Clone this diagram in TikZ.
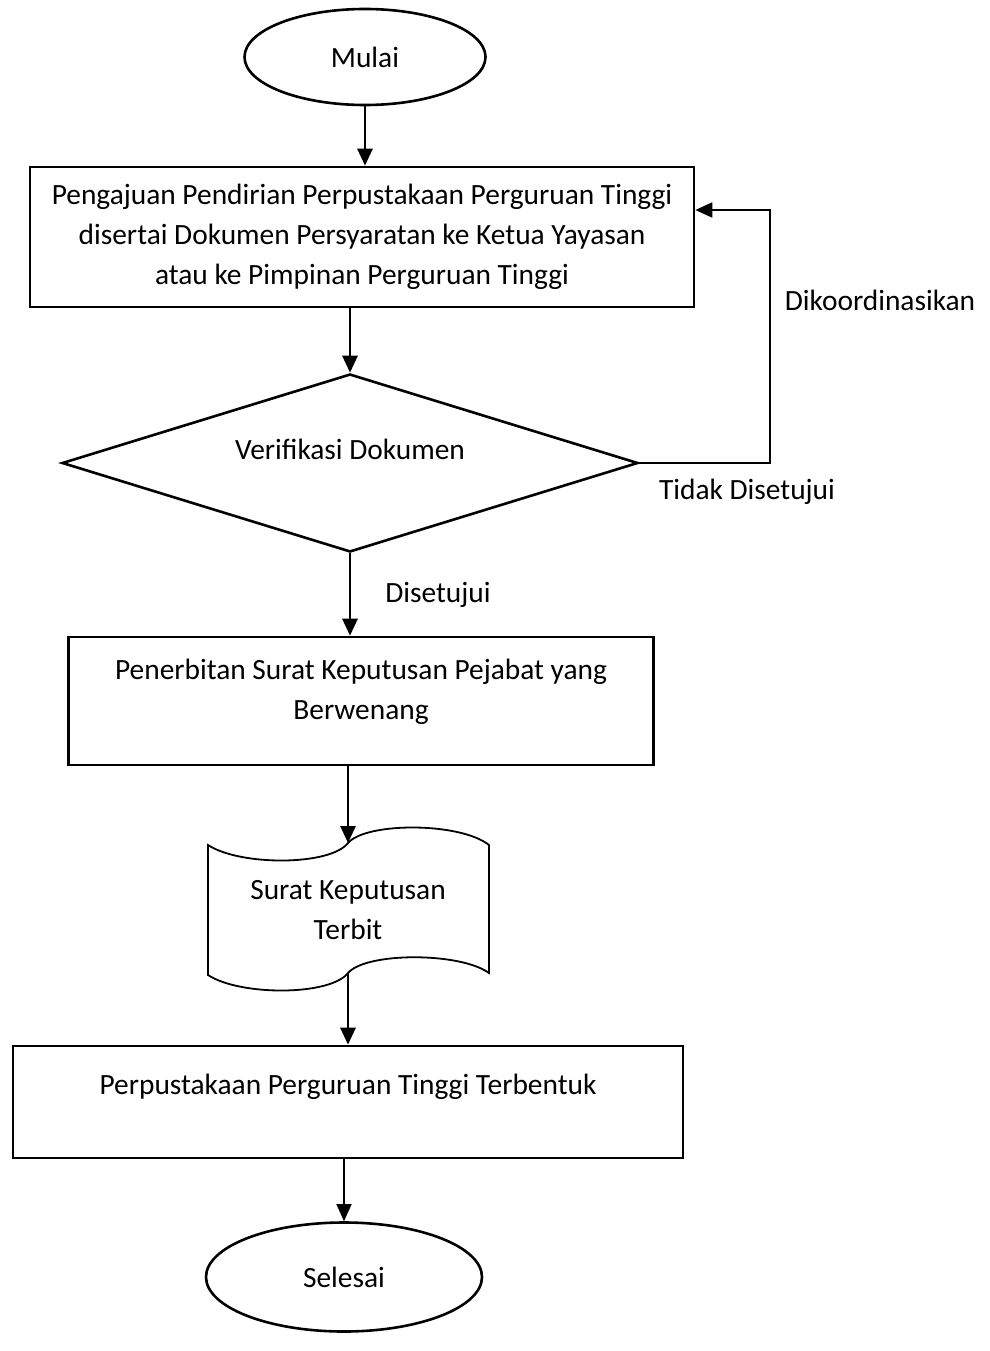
\documentclass[tikz,border=0pt]{standalone}
\usepackage{fontspec}
\setmainfont{Carlito}
\usetikzlibrary{shapes.geometric, arrows.meta, positioning}

\tikzset{
  terminal/.style={ellipse, draw, line width=2.6pt, inner sep=0pt},
  procbox/.style={rectangle, draw, line width=2.6pt, align=center, inner sep=0pt},
  decision/.style={diamond, draw, line width=2.6pt, inner sep=0pt},
  flow/.style={line width=2.8pt, -{Triangle[width=15pt,length=17pt]}},
  thinflow/.style={line width=1.2pt, -{Triangle[width=15pt,length=17pt]}},
}

\begin{document}
\begin{tikzpicture}[x=1pt, y=-1pt, font=\fontsize{29.4}{40}\selectfont]
    \useasboundingbox (0,0) rectangle (989,1351);

    % Start
    \node[terminal, minimum width=241, minimum height=96] (mulai) at (365,57) {Mulai};

    % Submission
    \node[procbox, minimum width=664, minimum height=140] (pengajuan) at (362,237)
        {Pengajuan Pendirian Perpustakaan Perguruan Tinggi\\disertai Dokumen Persyaratan ke Ketua Yayasan\\atau ke Pimpinan Perguruan Tinggi};

    % Verification
    \node[decision, minimum width=576, minimum height=178,
          label={[yshift=14pt]center:Verifikasi Dokumen}] (verif) at (350,463) {};

    % Decree
    \node[procbox, minimum width=585, minimum height=128,
          label={[yshift=9pt, align=center]center:Penerbitan Surat Keputusan Pejabat yang\\Berwenang}] (penerbitan) at (361,701) {};

    % Document shape
    \draw[line width=1.8pt] (208,845) .. controls (240,866) and (330,866) .. (348,843)
        .. controls (366,822) and (460,822) .. (489,845) -- (489,973)
        .. controls (460,952) and (366,952) .. (348,973)
        .. controls (330,996) and (240,996) .. (208,975) -- cycle;
    \node[align=center] (sk) at (348,910) {Surat Keputusan\\Terbit};
    \coordinate (sktop) at (348,843);
    \coordinate (skbot) at (348,973);

    % Library formed
    \node[procbox, minimum width=670, minimum height=112,
          label={[yshift=15pt]center:Perpustakaan Perguruan Tinggi Terbentuk}] (terbentuk) at (348,1102) {};

    % End
    \node[terminal, minimum width=276, minimum height=109] (selesai) at (344,1277) {Selesai};

    % Labels
    \node (lbltidak) at (747,492) {Tidak Disetujui};
    \node (lbldk) at (880,300) {Dikoordinasikan};
    \node (lblsetuju) at (438,595) {Disetujui};

    % Connectors
    \draw[flow] (mulai.south) -- (mulai.south |- pengajuan.north);
    \draw[flow] (verif.north |- pengajuan.south) -- (verif.north);
    \draw[flow] (verif.south) -- (verif.south |- penerbitan.north);
    \draw[flow] (penerbitan.south -| sktop) -- (sktop);
    \draw[flow] (skbot) -- (skbot |- terbentuk.north);
    \draw[thinflow] (terbentuk.south -| selesai.north) -- (selesai.north);

    % Loop back
    \coordinate (balik) at (770,210);
    \draw[line width=1.8pt, -{Triangle[width=15pt,length=17pt]}] (verif.east) -| (balik) -- (balik -| pengajuan.east);
\end{tikzpicture}
\end{document}
